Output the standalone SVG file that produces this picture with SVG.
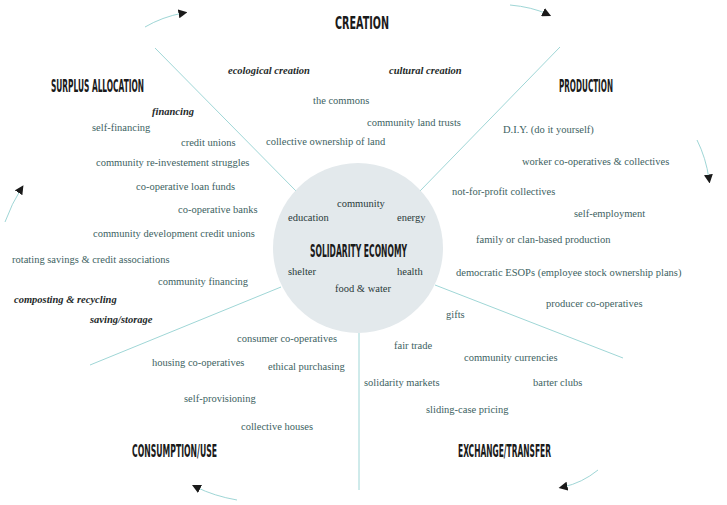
<svg xmlns="http://www.w3.org/2000/svg" width="727" height="505" viewBox="0 0 727 505">
<defs>
<style>
.h{font-family:DejaVu Sans Condensed,DejaVu Sans,sans-serif;font-size:17px;font-weight:bold;fill:#1a1a1a}
.t{font-family:Liberation Serif,DejaVu Serif,serif;font-size:10.5px;fill:#3d6262}
.b{font-family:Liberation Serif,DejaVu Serif,serif;font-size:10.5px;font-weight:bold;font-style:italic;fill:#1e2a2a}
.c{font-family:Liberation Serif,DejaVu Serif,serif;font-size:10.5px;fill:#2a3a3a}
.l{stroke:#9fd6d6;stroke-width:1;fill:none}
</style>
<marker id="ah" viewBox="0 0 10 10" refX="5" refY="5" markerWidth="9" markerHeight="9" orient="auto-start-reverse" markerUnits="userSpaceOnUse"><path d="M0,0 L10,5 L0,10 z" fill="#1a1a1a"/></marker>
</defs>
<rect width="727" height="505" fill="#fff"/>
<g id="connectors">
<line class="l" x1="155" y1="48" x2="296" y2="191"/>
<line class="l" x1="560" y1="47" x2="420" y2="191"/>
<line class="l" x1="90" y1="365" x2="281" y2="287"/>
<line class="l" x1="435" y1="285" x2="623" y2="358"/>
<line class="l" x1="359" y1="333" x2="359" y2="490"/>
<path class="l" d="M145,27 Q162,17 183,13" marker-end="url(#ah)"/>
<path class="l" d="M510,5 Q532,7 547,14" marker-end="url(#ah)"/>
<path class="l" d="M697,140 Q706,158 709,179" marker-end="url(#ah)"/>
<path class="l" d="M5,222 Q12,203 21,189" marker-end="url(#ah)"/>
<path class="l" d="M237,500 Q214,496 196,487" marker-end="url(#ah)"/>
<path class="l" d="M598,470 Q582,483 563,487" marker-end="url(#ah)"/>
</g>
<g id="center">
<circle cx="358" cy="248" r="85" fill="#e3e9ec"/>
<text class="h" x="310" y="257" textLength="97" lengthAdjust="spacingAndGlyphs">SOLIDARITY ECONOMY</text>
<text class="c" x="337" y="207">community</text>
<text class="c" x="288" y="221">education</text>
<text class="c" x="397" y="221">energy</text>
<text class="c" x="288" y="275">shelter</text>
<text class="c" x="397" y="275">health</text>
<text class="c" x="335" y="292">food &amp; water</text>
</g>
<g id="creation">
<text class="h" x="335" y="29" textLength="54" lengthAdjust="spacingAndGlyphs">CREATION</text>
<text class="b" x="228" y="74">ecological creation</text>
<text class="b" x="389" y="74">cultural creation</text>
<text class="t" x="313" y="104">the commons</text>
<text class="t" x="367" y="126">community land trusts</text>
<text class="t" x="266" y="145">collective ownership of land</text>
</g>
<g id="surplus">
<text class="h" x="51" y="92" textLength="93" lengthAdjust="spacingAndGlyphs">SURPLUS ALLOCATION</text>
<text class="b" x="152" y="115">financing</text>
<text class="t" x="92" y="131">self-financing</text>
<text class="t" x="181" y="146">credit unions</text>
<text class="t" x="96" y="166">community re-investement struggles</text>
<text class="t" x="136" y="190">co-operative loan funds</text>
<text class="t" x="178" y="213">co-operative banks</text>
<text class="t" x="93" y="237">community development credit unions</text>
<text class="t" x="12" y="263">rotating savings &amp; credit associations</text>
<text class="t" x="158" y="285">community financing</text>
<text class="b" x="14" y="303">composting &amp; recycling</text>
<text class="b" x="90" y="323">saving/storage</text>
</g>
<g id="production">
<text class="h" x="559" y="92" textLength="54" lengthAdjust="spacingAndGlyphs">PRODUCTION</text>
<text class="t" x="503" y="133">D.I.Y. (do it yourself)</text>
<text class="t" x="522" y="165">worker co-operatives &amp; collectives</text>
<text class="t" x="452" y="195">not-for-profit collectives</text>
<text class="t" x="574" y="217">self-employment</text>
<text class="t" x="476" y="243">family or clan-based production</text>
<text class="t" x="456" y="276">democratic ESOPs (employee stock ownership plans)</text>
<text class="t" x="546" y="307">producer co-operatives</text>
</g>
<g id="exchange">
<text class="h" x="458" y="457" textLength="93" lengthAdjust="spacingAndGlyphs">EXCHANGE/TRANSFER</text>
<text class="t" x="446" y="318">gifts</text>
<text class="t" x="394" y="349">fair trade</text>
<text class="t" x="464" y="361">community currencies</text>
<text class="t" x="364" y="386">solidarity markets</text>
<text class="t" x="533" y="386">barter clubs</text>
<text class="t" x="426" y="413">sliding-case pricing</text>
</g>
<g id="consumption">
<text class="h" x="132" y="457" textLength="85" lengthAdjust="spacingAndGlyphs">CONSUMPTION/USE</text>
<text class="t" x="237" y="342">consumer co-operatives</text>
<text class="t" x="152" y="366">housing co-operatives</text>
<text class="t" x="268" y="370">ethical purchasing</text>
<text class="t" x="184" y="402">self-provisioning</text>
<text class="t" x="241" y="430">collective houses</text>
</g>
</svg>
